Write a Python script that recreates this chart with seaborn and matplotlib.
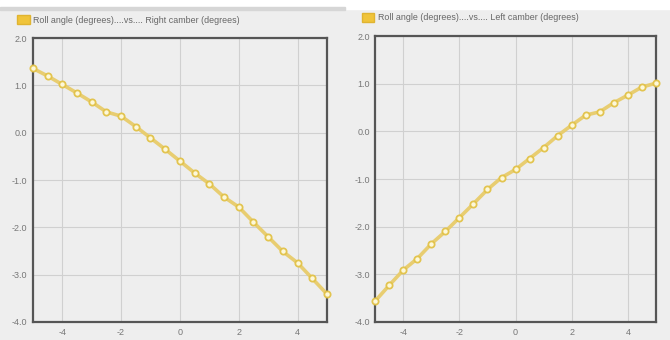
import numpy as np
import matplotlib
matplotlib.use('Agg')
import matplotlib.pyplot as plt
from matplotlib.patches import Patch
import seaborn as sns

# roll angle sweep (degrees)
roll = [-5.0, -4.5, -4.0, -3.5, -3.0, -2.5, -2.0, -1.5, -1.0, -0.5, 0.0,
        0.5, 1.0, 1.5, 2.0, 2.5, 3.0, 3.5, 4.0, 4.5, 5.0]
# camber values (degrees)
right_camber = [1.36, 1.20, 1.02, 0.84, 0.65, 0.44, 0.35, 0.13, -0.11, -0.35, -0.60,
                -0.85, -1.08, -1.36, -1.57, -1.89, -2.20, -2.51, -2.75, -3.08, -3.41]
left_camber = [-3.56, -3.23, -2.91, -2.67, -2.36, -2.10, -1.81, -1.52, -1.22, -0.97, -0.80,
               -0.57, -0.34, -0.09, 0.13, 0.34, 0.41, 0.60, 0.76, 0.93, 1.01]
labels = ['Roll angle (degrees)....vs.... Right camber (degrees)',
          'Roll angle (degrees)....vs.... Left camber (degrees)']
xticks = [-4, -2, 0, 2, 4]
yticks = [-4.0, -3.0, -2.0, -1.0, 0.0, 1.0, 2.0]

bg = '#eeeeee'
gold = '#f0c43a'
line_col = '#e8cc6a'

sns.set_theme(style='whitegrid')
plt.rcParams['font.family'] = ['Liberation Sans', 'DejaVu Sans']

fig = plt.figure(figsize=(6.7, 3.4), dpi=100, facecolor=bg)
# white strip at the very top, like the page behind the charts
fig.patches.append(plt.Rectangle((0, 0.975), 1, 0.025, transform=fig.transFigure,
                                 color='white', zorder=0))
fig.patches.append(plt.Rectangle((0, 0.970), 0.515, 0.008, transform=fig.transFigure,
                                 color='#d6d6d6', zorder=0))

positions = [[0.049, 0.053, 0.439, 0.835], [0.560, 0.053, 0.419, 0.841]]
series = [right_camber, left_camber]
leg_x = [-0.065, -0.06]

for pos, yvals, lab, lx in zip(positions, series, labels, leg_x):
    ax = fig.add_axes(pos)
    ax.set_facecolor(bg)
    sns.lineplot(x=roll, y=yvals, ax=ax, color=line_col, linewidth=2.6,
                 marker='o', markersize=4.5, markerfacecolor='#fffbe0',
                 markeredgecolor='#e2c248', markeredgewidth=1.3, alpha=0.95,
                 clip_on=False, zorder=5)
    ax.set_xlim(-5, 5)
    ax.set_ylim(-4, 2)
    ax.set_xticks(xticks)
    ax.set_yticks(yticks)
    ax.set_xticklabels([str(t) for t in xticks])
    ax.set_yticklabels(['%.1f' % t for t in yticks])
    ax.grid(True, color='#d0d0d0', linewidth=0.8)
    ax.tick_params(axis='both', labelsize=6.5, colors='#777777', length=0, pad=4)
    for s in ax.spines.values():
        s.set_color('#555555')
        s.set_linewidth(1.6)
    ax.set_xlabel('')
    ax.set_ylabel('')
    handle = Patch(facecolor=gold, edgecolor='#e0b430', label=lab)
    leg = ax.legend(handles=[handle], loc='lower left', bbox_to_anchor=(lx, 1.035),
                    frameon=False, fontsize=6.4, handlelength=1.4, handleheight=1.2,
                    handletextpad=0.4, borderaxespad=0)
    for t in leg.get_texts():
        t.set_color('#666666')

fig.savefig('out.png', dpi=100, facecolor=bg)
